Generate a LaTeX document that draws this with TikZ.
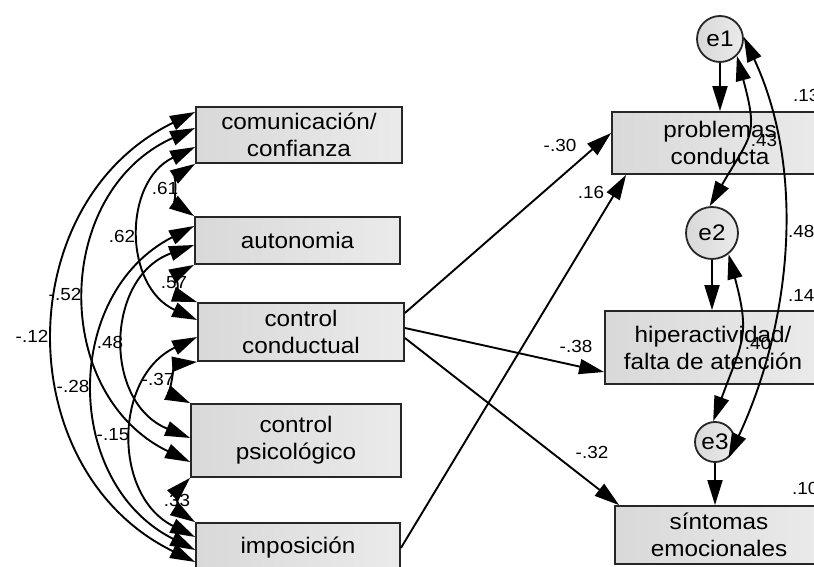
\documentclass[tikz,border=0pt]{standalone}
\usepackage{fontspec}
\setmainfont{Liberation Sans}[FakeStretch=1.08]
\usetikzlibrary{arrows.meta}
\newcommand\boxfont{\fontsize{22.5}{27}\selectfont}
\newcommand\labfont{\fontsize{17.5}{20}\selectfont}
\begin{document}
\begin{tikzpicture}[x=1pt,y=1pt,
  >={Triangle[length=25pt,width=15pt]},
  obs/.style={draw=black!85, line width=1.8pt, left color=black!15, right color=black!8, align=center, inner sep=0pt, font=\boxfont},
  err/.style={circle, draw=black!85, line width=1.8pt, left color=black!15, right color=black!8, inner sep=0pt, font=\boxfont},
  reg/.style={->, line width=1.9pt},
  cov/.style={<->, line width=1.9pt},
  lab/.style={font=\labfont, inner sep=0pt}]
\useasboundingbox (0,0) rectangle (814,567);
\fill[white] (0,0) rectangle (814,567);
\clip (0,0) rectangle (814,567);

% observed variables
\node[obs, minimum width=206pt, minimum height=56pt] (com) at (299,432) {comunicación/\\confianza};
\node[obs, minimum width=205pt, minimum height=47pt] (aut) at (297.5,326.5) {autonomia};
\node[obs, minimum width=206pt, minimum height=58pt] (cc) at (301,235) {control\\conductual};
\node[obs, minimum width=210pt, minimum height=73pt] (cp) at (296,126.5) {control\\psicológico};
\node[obs, minimum width=204pt, minimum height=50pt] (imp) at (298,19) {imposición};
\node[obs, minimum width=216pt, minimum height=62pt] (prob) at (720,424) {problemas\\conducta};
\node[obs, minimum width=216pt, minimum height=73pt] (hip) at (713,219.5) {hiperactividad/\\falta de atención};
\node[obs, minimum width=208pt, minimum height=58pt] (sint) at (719,32) {síntomas\\emocionales};

% error terms
\node[err, minimum size=46pt] (e1) at (720,528) {e1};
\node[err, minimum size=52pt] (e2) at (712,334) {e2};
\node[err, minimum size=40pt] (e3) at (715,125) {e3};

% left covariances
\draw[cov] (com.south west) to[bend right=57, looseness=1.1] (aut.north west);
\draw[cov] (aut.south west) to[bend right=67, looseness=1.22] (cc.north west);
\draw[cov] (cc.south west) to[bend right=75, looseness=1.35] (cp.north west);
\draw[cov] (cp.south west) to[bend right=51, looseness=1.05] (imp.north west);
\draw[cov] ([yshift=-12pt]com.west) to[bend right=65, looseness=1.19] ([yshift=12pt]cc.west);
\draw[cov] ([yshift=-4.5pt]aut.west) to[bend right=69, looseness=1.25] ([yshift=2.5pt]cp.west);
\draw[cov] ([yshift=-5pt]cc.west) to[bend right=64, looseness=1.18] ([yshift=11pt]imp.west);
\draw[cov] ([yshift=7pt]com.west) to[bend right=65, looseness=1.19] ([yshift=-21.5pt]cp.west);
\draw[cov] ([yshift=14.5pt]aut.west) to[bend right=63, looseness=1.17] ([yshift=-2pt]imp.west);
\draw[cov] ([yshift=23pt]com.west) to[bend right=64, looseness=1.18] ([yshift=-14pt]imp.west);

% regressions
\draw[reg] ([yshift=19pt]cc.east) -- ([yshift=10pt]prob.west);
\draw[reg] ([yshift=4pt]cc.east) -- ([yshift=-24.5pt]hip.west);
\draw[reg] ([yshift=-6pt]cc.east) -- ([xshift=5pt]sint.north west);
\draw[reg] (imp.east) -- ([xshift=15pt]prob.south west);

% error paths
\draw[reg] (e1.south) -- (e1.south |- prob.north);
\draw[reg] (e2.south) -- (e2.south |- hip.north);
\draw[reg] (e3.south) -- (e3.south |- sint.north);

% error covariances
\draw[cov] (e1.-45) to[out=-75, in=60, looseness=1.4] (e2.95);
\draw[cov] (e2.-52) to[out=-75, in=70, looseness=1.3] (e3.95);
\draw[cov] (e1.5) to[out=-65, in=65, looseness=0.9] (e3.-50);

% labels left
\node[lab] (l61) at (165,379) {.61};
\node[lab] (l62) at (122,331) {.62};
\node[lab] (l52) at (65,273) {-.52};
\node[lab] (l12) at (32,231) {-.12};
\node[lab] (l48a) at (110,225) {.48};
\node[lab] (l28) at (73,181) {-.28};
\node[lab] (l57) at (174,284) {.57};
\node[lab] (l37) at (158,188) {-.37};
\node[lab] (l15) at (113,132) {-.15};
\node[lab] (l33) at (177,67) {.33};

% labels right
\node[lab] (l30) at (560,422) {-.30};
\node[lab] (l16) at (591,375) {.16};
\node[lab] (l38) at (576,221) {-.38};
\node[lab] (l32) at (592,115) {-.32};
\node[lab] (l43) at (764,427) {.43};
\node[lab] (l40) at (758,224) {.40};
\node[lab, anchor=west] (l48b) at (788,336) {.48};
\node[lab, anchor=west] (l13) at (793,472) {.13};
\node[lab, anchor=west] (l14) at (788,272) {.14};
\node[lab, anchor=west] (l10) at (792,79) {.10};
\end{tikzpicture}
\end{document}
